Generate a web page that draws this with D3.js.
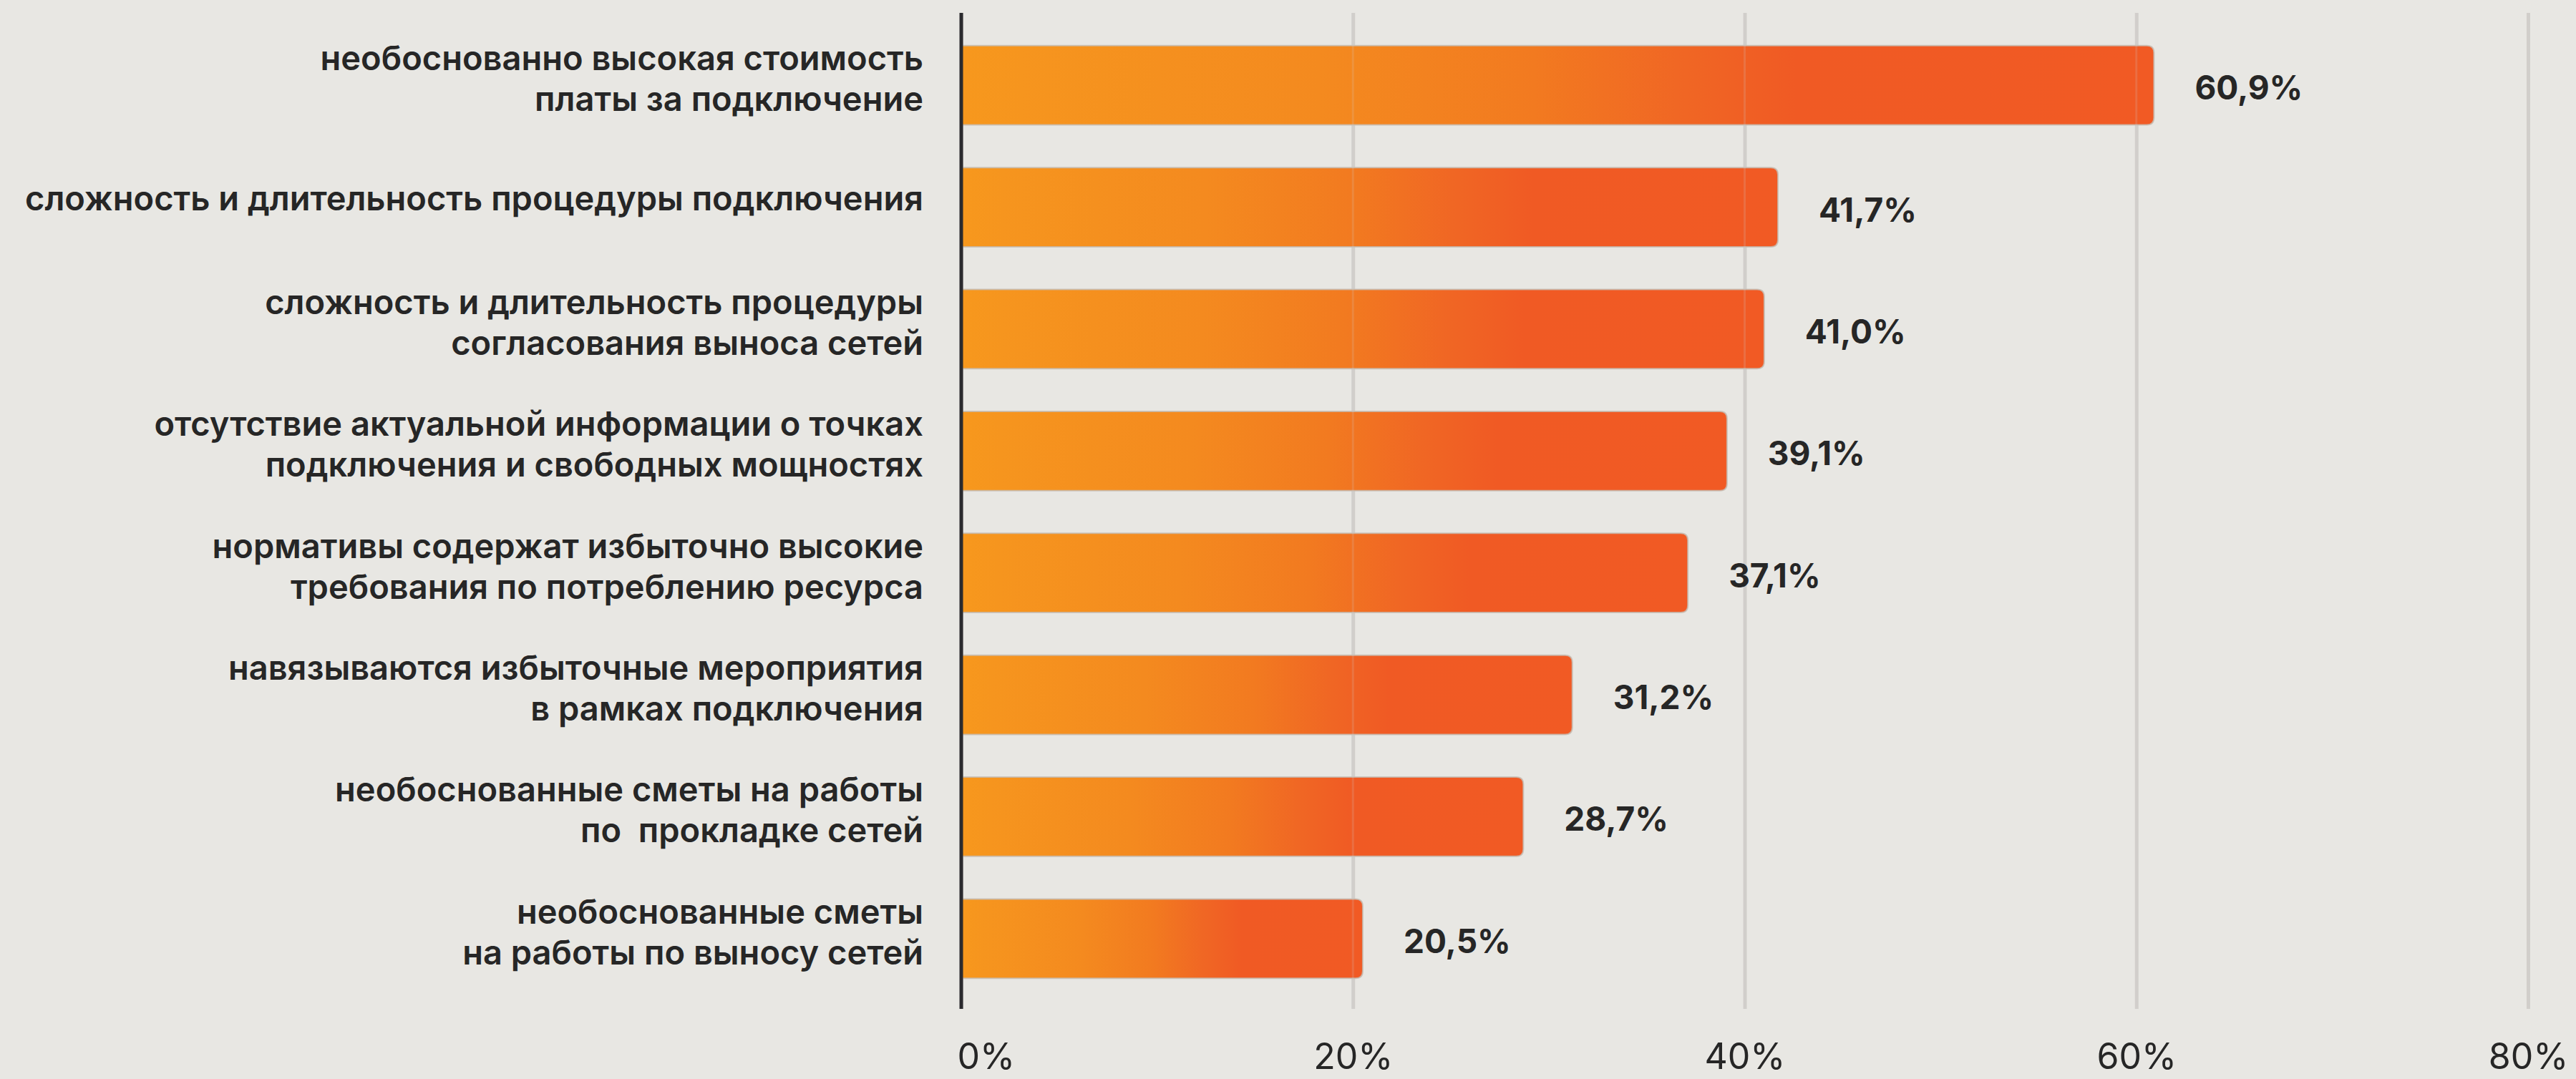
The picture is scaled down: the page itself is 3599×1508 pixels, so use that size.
<!DOCTYPE html>
<html lang="ru">
<head>
<meta charset="utf-8">
<script src="https://cdn.jsdelivr.net/npm/d3@7/dist/d3.min.js"></script>
<style>
  html, body { margin: 0; padding: 0; background: #e8e7e3; }
  svg { display: block; }
  .cat { font-family: Inter, "Noto Sans", sans-serif; font-weight: 600; fill: #262626; white-space: pre; }
  .val { font-family: Inter, "Noto Sans", sans-serif; font-weight: 700; fill: #262626; }
  .tick text { font-family: Inter, "Noto Sans", sans-serif; font-weight: 400; fill: #262626; }
</style>
</head>
<body>
<svg id="chart" width="3599" height="1508"></svg>
<script>
// Reasons cited as barriers to connection, share of respondents (%)
const categories = [
  "необоснованно высокая стоимость\nплаты за подключение",
  "сложность и длительность процедуры подключения",
  "сложность и длительность процедуры\nсогласования выноса сетей",
  "отсутствие актуальной информации о точках\nподключения и свободных мощностях",
  "нормативы содержат избыточно высокие\nтребования по потреблению ресурса",
  "навязываются избыточные мероприятия\nв рамках подключения",
  "необоснованные сметы на работы\nпо  прокладке сетей",
  "необоснованные сметы\nна работы по выносу сетей"
];
const values = [60.9, 41.7, 41.0, 39.1, 37.1, 31.2, 28.7, 20.5];
const tickValues = [0, 20, 40, 60, 80];
const tickLabels = ["0%", "20%", "40%", "60%", "80%"];

const W = 3599, H = 1508;
const svg = d3.select("#chart").attr("viewBox", [0, 0, W, H]);

svg.append("rect").attr("width", W).attr("height", H).attr("fill", "#e8e7e3");

const x = d3.scaleLinear().domain([0, 80]).range([1343, 3532]);
const y = d3.scaleBand()
  .domain(d3.range(categories.length))
  .range([34, 1397])
  .paddingInner(0.35)
  .paddingOuter(0.175);

const axisTop = 18, axisBottom = 1410;

// horizontal gradient running along each bar
const defs = svg.append("defs");
const grad = defs.append("linearGradient")
  .attr("id", "barGrad")
  .attr("x1", "0").attr("x2", "1").attr("y1", "0").attr("y2", "0");
[[0, "#f7981d"], [0.05, "#f6951e"], [0.3, "#f48a1f"], [0.48, "#f27a20"], [0.6, "#f06724"], [0.7, "#f05a24"], [1, "#f15a24"]]
  .forEach(([o, c]) => grad.append("stop").attr("offset", o).attr("stop-color", c));

// grid + tick labels
const xAxis = d3.axisBottom(x)
  .tickValues(tickValues)
  .tickFormat((d, i) => tickLabels[i])
  .tickSize(-(axisBottom - axisTop))
  .tickPadding(0);

const gx = svg.append("g")
  .attr("transform", `translate(0,${axisBottom})`)
  .call(xAxis);
gx.select(".domain").remove();
gx.selectAll(".tick line")
  .attr("stroke", "#d1cfcb")
  .attr("stroke-width", 5);
gx.selectAll(".tick text")
  .attr("y", 84)
  .attr("dy", 0)
  .attr("font-size", 50)
  .attr("text-anchor", (d, i) => i === 0 ? "start" : "middle")
  .attr("dx", (d, i) => i === 0 ? -6 : 0);

// bars: square at the axis, rounded on the right
const r = 10;
function barPath(v, i) {
  const x0 = x(0), x1 = x(v), y0 = y(i), h = y.bandwidth();
  return `M${x0},${y0}H${x1 - r}Q${x1},${y0} ${x1},${y0 + r}V${y0 + h - r}Q${x1},${y0 + h} ${x1 - r},${y0 + h}H${x0}Z`;
}

svg.append("g")
  .selectAll("path")
  .data(values)
  .join("path")
  .attr("d", (d, i) => barPath(d, i))
  .attr("fill", "url(#barGrad)")
  .attr("stroke", "#c4bbb2")
  .attr("stroke-opacity", 0.8)
  .attr("stroke-width", 2);

// faint grid traces visible across the bars
svg.append("g")
  .selectAll("line")
  .data(tickValues.slice(1))
  .join("line")
  .attr("x1", d => x(d)).attr("x2", d => x(d))
  .attr("y1", axisTop).attr("y2", axisBottom)
  .attr("stroke", "#d1cfcb")
  .attr("stroke-opacity", 0.18)
  .attr("stroke-width", 3);

// zero axis line
svg.append("line")
  .attr("x1", x(0)).attr("x2", x(0))
  .attr("y1", axisTop).attr("y2", axisBottom)
  .attr("stroke", "#2a2a2e")
  .attr("stroke-width", 5);

// value labels
const ru = d3.formatLocale({ decimal: ",", thousands: "\u00a0", grouping: [3], currency: ["", ""] });
const fmt = ru.format(".1f");
svg.append("g")
  .selectAll("text")
  .data(values)
  .join("text")
  .attr("class", "val")
  .attr("x", d => x(d) + 57)
  .attr("y", (d, i) => y(i) + y.bandwidth() / 2 + 20)
  .attr("font-size", 46)
  .text(d => fmt(d) + "%");

// category labels, right-aligned beside the axis
const catG = svg.append("g");
categories.forEach((c, i) => {
  const lines = c.split("\n");
  const cy = y(i) + y.bandwidth() / 2;
  const t = catG.append("text")
    .attr("class", "cat")
    .attr("text-anchor", "end")
    .attr("font-size", 47);
  lines.forEach((ln, j) => {
    const off = lines.length === 1 ? 4 : (j === 0 ? -21 : 36);
    t.append("tspan")
      .attr("x", 1290)
      .attr("y", cy + off)
      .text(ln);
  });
});
</script>
</body>
</html>
